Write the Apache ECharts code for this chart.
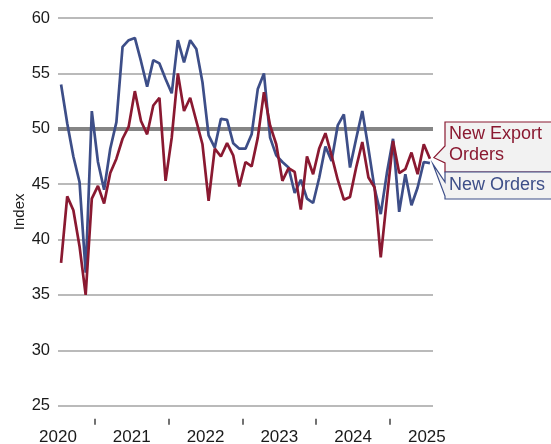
<!DOCTYPE html>
<html>
<head>
<meta charset="utf-8">
<script src="https://cdn.jsdelivr.net/npm/echarts@6/dist/echarts.min.js"></script>
<style>
html,body{margin:0;padding:0;background:#fff;}
#chart{width:551px;height:444px;}
</style>
</head>
<body>
<div id="chart"></div>
<script>
// Monthly categories (Jan 2020 - Jan 2025)
const months = [
 '2020-01','2020-02','2020-03','2020-04','2020-05','2020-06','2020-07','2020-08','2020-09','2020-10','2020-11','2020-12',
 '2021-01','2021-02','2021-03','2021-04','2021-05','2021-06','2021-07','2021-08','2021-09','2021-10','2021-11','2021-12',
 '2022-01','2022-02','2022-03','2022-04','2022-05','2022-06','2022-07','2022-08','2022-09','2022-10','2022-11','2022-12',
 '2023-01','2023-02','2023-03','2023-04','2023-05','2023-06','2023-07','2023-08','2023-09','2023-10','2023-11','2023-12',
 '2024-01','2024-02','2024-03','2024-04','2024-05','2024-06','2024-07','2024-08','2024-09','2024-10','2024-11','2024-12',
 '2025-01'
];
// Month boundaries (start of each month plus the end of the last one) for the visible time axis
const monthStarts = months.concat(['2025-02']);
const yearLabels = ['2020','2021','2022','2023','2024','2025'];

const newOrders = [
 54.0,50.5,47.5,45.2,37.0,51.6,47.0,44.5,48.2,50.6,57.4,58.0,
 58.2,56.1,53.8,56.2,55.9,54.5,53.2,58.0,56.0,58.0,57.2,54.2,
 49.4,48.3,50.9,50.8,48.7,48.2,48.2,49.5,53.6,55.0,49.2,47.6,
 47.0,46.5,44.2,45.4,43.7,43.3,45.6,48.4,47.1,50.3,51.3,46.5,
 49.1,51.6,48.2,44.6,42.3,46.0,49.1,42.5,45.9,43.1,44.7,47.0,
 46.9
];
const newExportOrders = [
 37.9,43.9,42.65,39.4,35.0,43.7,44.85,43.25,46.0,47.3,49.1,50.2,
 53.4,50.7,49.5,52.1,52.8,45.3,49.2,55.0,51.6,52.8,50.7,48.6,
 43.5,48.2,47.5,48.7,47.6,44.8,47.0,46.6,49.2,53.3,50.3,48.6,
 45.3,46.45,46.1,42.7,47.5,45.9,48.25,49.6,47.6,45.4,43.6,43.85,
 46.5,48.8,45.6,44.7,38.4,43.7,48.9,46.0,46.35,47.85,45.9,48.6,
 47.3
];
const yTicks = {min: 25, max: 60, interval: 5};
const referenceLevel = 50;

const BLUE = '#3d4e88';
const RED = '#8a1931';
const FONT = 'Liberation Sans, Arial, sans-serif';

const chart = echarts.init(document.getElementById('chart'), null, {renderer: 'canvas'});

const option = {
  backgroundColor: '#ffffff',
  animation: false,
  grid: {left: 58, right: 118, top: 18, bottom: 38.3, containLabel: false, outerBoundsMode: 'none'},
  xAxis: [
    {type: 'category', data: months, boundaryGap: true, show: false},
    {
      type: 'category', data: monthStarts, boundaryGap: false, position: 'bottom',
      offset: 13,
      axisLine: {show: false},
      axisTick: {show: true, length: 6, interval: (i) => i % 12 === 6,
                 lineStyle: {color: '#444', width: 1.5}},
      axisLabel: {
        show: true, interval: (i) => i % 12 === 0, showMinLabel: true, hideOverlap: false,
        formatter: (v, i) => (i % 12 === 0 ? yearLabels[i / 12] : ''),
        color: '#1a1a1a', fontSize: 17, fontFamily: FONT, margin: 10
      },
      splitLine: {show: false}
    }
  ],
  yAxis: {
    type: 'value', min: yTicks.min, max: yTicks.max, interval: yTicks.interval,
    name: 'Index', nameLocation: 'middle', nameGap: 31, nameMoveOverlap: false,
    nameTextStyle: {color: '#1a1a1a', fontSize: 15, fontFamily: FONT},
    axisLine: {show: false},
    axisTick: {show: false},
    axisLabel: {color: '#1a1a1a', fontSize: 16.5, fontFamily: FONT, margin: 8},
    splitLine: {show: true, lineStyle: {color: '#a3a3a3', width: 1.5}}
  },
  series: [
    {
      name: 'New Orders', type: 'line', xAxisIndex: 0, yAxisIndex: 0,
      data: newOrders, symbol: 'none', z: 3,
      lineStyle: {color: BLUE, width: 2.7}, itemStyle: {color: BLUE},
      markLine: {
        silent: true, symbol: 'none', z: 1, animation: false,
        label: {show: false},
        lineStyle: {color: '#858585', width: 4, type: 'solid'},
        data: [{yAxis: referenceLevel}]
      }
    },
    {
      name: 'New Export Orders', type: 'line', xAxisIndex: 0, yAxisIndex: 0,
      data: newExportOrders, symbol: 'none', z: 4,
      lineStyle: {color: RED, width: 2.7}, itemStyle: {color: RED}
    }
  ]
};
chart.setOption(option);

// Callout boxes anchored to each series' last point
const last = months.length - 1;
const pR = chart.convertToPixel({xAxisIndex: 0, yAxisIndex: 0}, [last, newExportOrders[last]]);
const pB = chart.convertToPixel({xAxisIndex: 0, yAxisIndex: 0}, [last, newOrders[last]]);
const bx = 445;
const rTop = 122, rBot = 172, bBot = 199;
const tipR = [pR[0] + 4, pR[1] - 1];
const tipB = [pB[0] + 3, pB[1] + 1];

chart.setOption({
  graphic: [
    {
      type: 'polygon', z: 100,
      shape: {points: [[bx, rTop], [560, rTop], [560, rBot], [bx, rBot], [bx, 163], tipR, [bx, 146]]},
      style: {fill: '#f2f2f2', stroke: RED, lineWidth: 1.2}
    },
    {
      type: 'polygon', z: 101,
      shape: {points: [[bx, rBot], [560, rBot], [560, bBot], [bx, bBot], [bx, 196], tipB, [bx, 182]]},
      style: {fill: '#f2f2f2', stroke: BLUE, lineWidth: 1.2}
    },
    {
      type: 'text', z: 102, left: 449, top: 124,
      style: {text: 'New Export\nOrders', fill: RED, font: '18px ' + FONT, lineHeight: 21}
    },
    {
      type: 'text', z: 102, left: 449, top: 175,
      style: {text: 'New Orders', fill: BLUE, font: '18px ' + FONT, lineHeight: 21}
    }
  ]
});
</script>
</body>
</html>
